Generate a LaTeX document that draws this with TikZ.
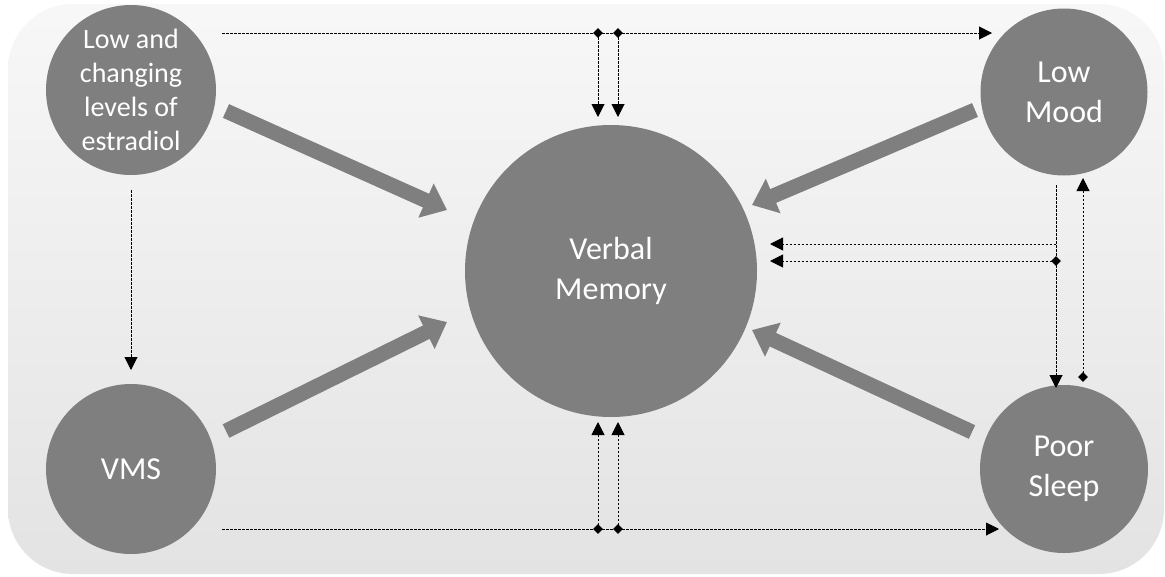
\documentclass[tikz,border=0pt]{standalone}
\usepackage{fontspec}
\setmainfont{Carlito}
\usepackage{tikz}
\usetikzlibrary{shapes.geometric, arrows.meta, positioning, calc}
\definecolor{cBubble}{RGB}{127,127,127}
\tikzset{
	bubble/.style   ={circle, fill=cBubble, text=white, inner sep=0pt, align=center, font=\fontsize{32}{40}\selectfont},
	bigarrow/.style ={-{Triangle[length=23pt, width=36pt]}, line width=15pt, cBubble},
	dotarrow/.style ={-{Triangle[length=13pt, width=13pt]}, line width=1pt, dash pattern=on 2.5pt off 1.5pt},
	junction/.style ={diamond, fill=black, inner sep=0pt, minimum size=10pt},
}
\begin{document}
\begin{tikzpicture}[x=1pt, y=-1pt]
	\useasboundingbox (0,0) rectangle (1165,576);
	% background panel
	\shade[top color=black!3, bottom color=black!11, rounded corners=65pt] (8,4) rectangle (1164,574);
	% factors
	\node[bubble, minimum size=170pt, font=\fontsize{28}{34}\selectfont] (estr) at (131,90) {Low and\\changing\\levels of\\estradiol};
	\node[bubble, minimum size=170pt] (vms) at (131,469) {VMS};
	\node[bubble, minimum size=167pt] (mood) at (1064,92) {Low\\Mood};
	\node[bubble, minimum size=168pt] (sleep) at (1064,469) {Poor\\Sleep};
	\node[bubble, minimum size=292pt] (mem) at (611,271) {Verbal\\Memory};
	% direct effects
	\draw[bigarrow] (226,111) -- (447,210);
	\draw[bigarrow] (226,431) -- (447,322);
	\draw[bigarrow] (975,110) -- (752,205);
	\draw[bigarrow] (972,432) -- (752,330);
	% top path: estradiol -> mood, via memory
	\coordinate (tS) at (222,33);
	\coordinate (tE) at (992,33);
	\coordinate (tA) at (598,117);
	\coordinate (tB) at (618,117);
	\node[junction] (tj1) at (598,33) {};
	\node[junction] (tj2) at (618,33) {};
	\draw[dotarrow] (tS) -- (tE);
	\draw[dotarrow] (tj1.center) -- (tA);
	\draw[dotarrow] (tj2.center) -- (tB);
	% bottom path: vms -> sleep, via memory
	\coordinate (bS) at (222,529);
	\coordinate (bE) at (999,529);
	\coordinate (bA) at (598,422);
	\coordinate (bB) at (618,422);
	\node[junction] (bj1) at (598,529) {};
	\node[junction] (bj2) at (618,529) {};
	\draw[dotarrow] (bS) -- (bE);
	\draw[dotarrow] (bj1.center) -- (bA);
	\draw[dotarrow] (bj2.center) -- (bB);
	% estradiol -> vms
	\coordinate (eS) at (131,190);
	\coordinate (eE) at (131,370);
	\draw[dotarrow] (eS) -- (eE);
	% mood <-> sleep
	\coordinate (mS) at (1056,185);
	\coordinate (mE) at (1056,388);
	\coordinate (sE) at (1083,178);
	\node[junction] (sj) at (1083,377) {};
	\node[junction] (rj) at (1056,261) {};
	\coordinate (rk) at (1056,244);
	\coordinate (rA) at (770,244);
	\coordinate (rB) at (770,261);
	\draw[dotarrow] (mS) -- (mE);
	\draw[dotarrow] (sj.center) -- (sE);
	\draw[dotarrow] (rk) -- (rA);
	\draw[dotarrow] (rj.center) -- (rB);
\end{tikzpicture}
\end{document}
